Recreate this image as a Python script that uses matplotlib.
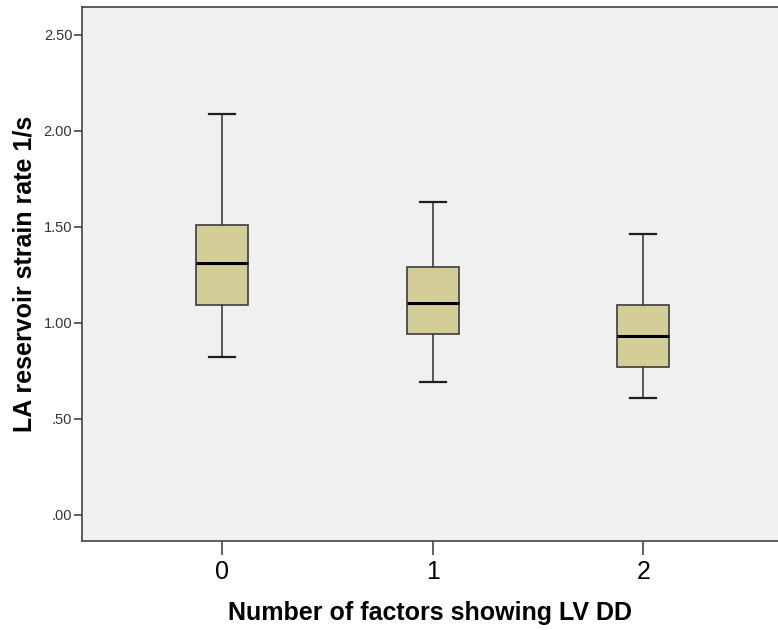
import matplotlib
matplotlib.use("Agg")
import matplotlib.pyplot as plt

plt.rcParams['font.family'] = ['Liberation Sans', 'DejaVu Sans']

# Box statistics
groups = ['0', '1', '2']
whisker_low = [0.82, 0.69, 0.61]
q1 = [1.09, 0.94, 0.77]
medians = [1.31, 1.10, 0.93]
q3 = [1.51, 1.29, 1.09]
whisker_high = [2.085, 1.63, 1.46]

stats = []
for i in range(len(groups)):
    stats.append({'whislo': whisker_low[i], 'q1': q1[i], 'med': medians[i],
                  'q3': q3[i], 'whishi': whisker_high[i], 'fliers': []})

fig = plt.figure(figsize=(7.78, 6.3), dpi=100)
ax = fig.add_axes([0.1054, 0.1413, 0.8946, 0.8476])
ax.set_facecolor('#F0F0F0')

ax.bxp(stats, positions=range(len(groups)), widths=0.247, patch_artist=True,
       showfliers=False,
       boxprops=dict(facecolor='#D3CE97', edgecolor='#3C3C3C', linewidth=1.2),
       medianprops=dict(color='black', linewidth=2.2),
       whiskerprops=dict(color='#3C3C3C', linewidth=1.2),
       capprops=dict(color='#1E1E1E', linewidth=1.6),
       capwidths=0.124)

ax.set_xlim(-0.665, 2.64)
ax.set_ylim(-0.137, 2.644)
ax.set_xticks(range(len(groups)))
ax.set_xticklabels(groups, fontsize=18)
yt = [0, 0.5, 1.0, 1.5, 2.0, 2.5]
ax.set_yticks(yt)
ax.set_yticklabels(['.00', '.50', '1.00', '1.50', '2.00', '2.50'], fontsize=10.5, color='#333333')

for s in ['left', 'bottom', 'top']:
    ax.spines[s].set_color('#444444')
    ax.spines[s].set_linewidth(1.2)
ax.spines['right'].set_visible(False)
ax.tick_params(axis='x', length=10, width=1.2, color='#444444', pad=4)
ax.tick_params(axis='y', length=6, width=1.2, color='#444444', pad=1)

ax.set_xlabel('Number of factors showing LV DD', fontsize=18, fontweight='bold', labelpad=12)
ax.set_ylabel('LA reservoir strain rate 1/s', fontsize=18, fontweight='bold', labelpad=5)

fig.savefig('out.png', dpi=100)
